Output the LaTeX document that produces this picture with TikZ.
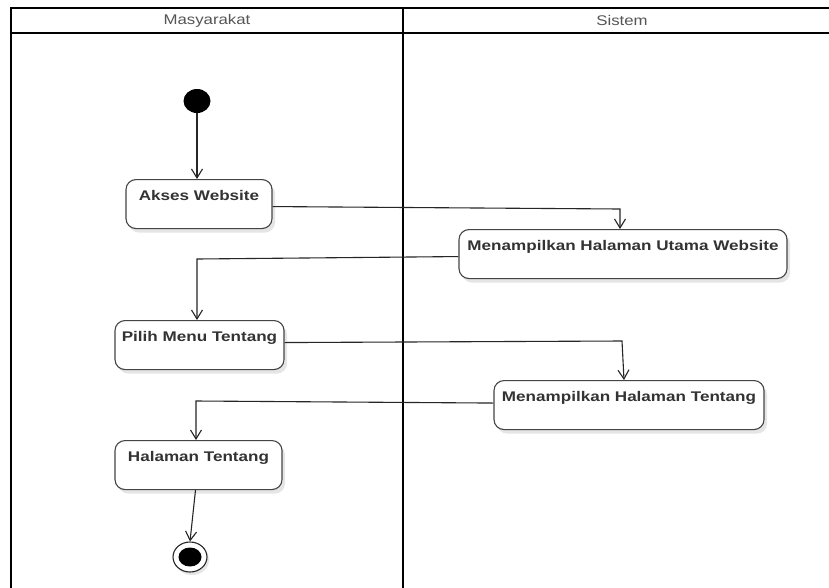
\documentclass[tikz,border=0pt]{standalone}
\usepackage{fontspec}
\setmainfont{Liberation Sans}
\newfontfamily\boxfont[FakeStretch=1.22]{Liberation Sans}
\newfontfamily\headfont[FakeStretch=1.2]{Liberation Sans}
\usetikzlibrary{arrows.meta,shapes.geometric,shadows}

\definecolor{boxline}{HTML}{444444}
\definecolor{boxtext}{HTML}{333333}
\definecolor{headtext}{HTML}{555555}

\tikzset{
  lane/.style={line width=2.4pt, black},
  headline/.style={line width=1.8pt, black},
  lanetitle/.style={font=\headfont\fontsize{14}{16}\selectfont, text=headtext, inner sep=0pt},
  actbox/.style={draw=boxline, line width=1.1pt, fill=white, rounded corners=10pt,
    font=\boxfont\bfseries\fontsize{14}{16}\selectfont, text=boxtext,
    minimum height=49pt, inner xsep=2pt, inner ysep=11pt,
    text height=10pt, text depth=17pt, anchor=north,
    drop shadow={shadow xshift=3pt, shadow yshift=-4pt, opacity=0.10, fill=black}},
  flow/.style={draw=black!85, line width=1.1pt, -{Straight Barb[length=9pt,width=11pt]}},
}

\begin{document}
\begin{tikzpicture}[x=1pt, y=-1pt]
  \useasboundingbox (0,0) rectangle (829,587);
  \clip (0,0) rectangle (829,587);
  \fill[white] (0,0) rectangle (829,587);

  % swimlane frame
  \draw[lane] (11,640) -- (11,8) -- (860,8);
  \draw[headline] (11,33) -- (860,33);
  \draw[lane] (403,8) -- (403,640);
  \node[lanetitle] (laneA) at (207,20.5) {Masyarakat};
  \node[lanetitle] (laneB) at (622,20.5) {Sistem};

  % initial node
  \node[ellipse, fill=black, minimum width=27pt, minimum height=24pt, inner sep=0pt] (start) at (197,101) {};

  % activities
  \node[actbox, minimum width=146pt] (akses)   at (199,179) {Akses Website};
  \node[actbox, minimum width=328pt] (utama)   at (623,229) {Menampilkan Halaman Utama Website};
  \node[actbox, minimum width=169pt] (pilih)   at (199.5,320) {Pilih Menu Tentang};
  \node[actbox, minimum width=270pt] (mtentang) at (629,380) {Menampilkan Halaman Tentang};
  \node[actbox, minimum width=167pt] (halaman) at (198.5,440) {Halaman Tentang};

  % final node
  \node[ellipse, draw=black!85, line width=1.1pt, fill=white, minimum width=34pt, minimum height=30pt, inner sep=0pt,
        drop shadow={shadow xshift=2pt, shadow yshift=-3pt, opacity=0.10, fill=black}] (finish) at (190,557) {};
  \node[ellipse, fill=black, minimum width=23pt, minimum height=19pt, inner sep=0pt] (finishdot) at (finish) {};

  % bend points of the flows
  \coordinate (b1) at (620,209);
  \coordinate (b2) at (197,259);
  \coordinate (b3) at (622,341);
  \coordinate (b4) at (196,401);

  % control flows
  \draw[flow] (start.south) -- (start.south |- akses.north);
  \draw[flow] ([yshift=-2.5pt]akses.east) -- (b1) -- (b1 |- utama.north);
  \draw[flow] ([yshift=-2.5pt]utama.west) -- (b2) -- (b2 |- pilih.north);
  \draw[flow] ([yshift=2.5pt]pilih.east) -- (b3) -- ([xshift=-5pt]mtentang.north);
  \draw[flow] ([yshift=2pt]mtentang.west) -- (b4) -- (b4 |- halaman.north);
  \draw[flow] ([xshift=-3pt]halaman.south) -- (finish.north);
\end{tikzpicture}
\end{document}
